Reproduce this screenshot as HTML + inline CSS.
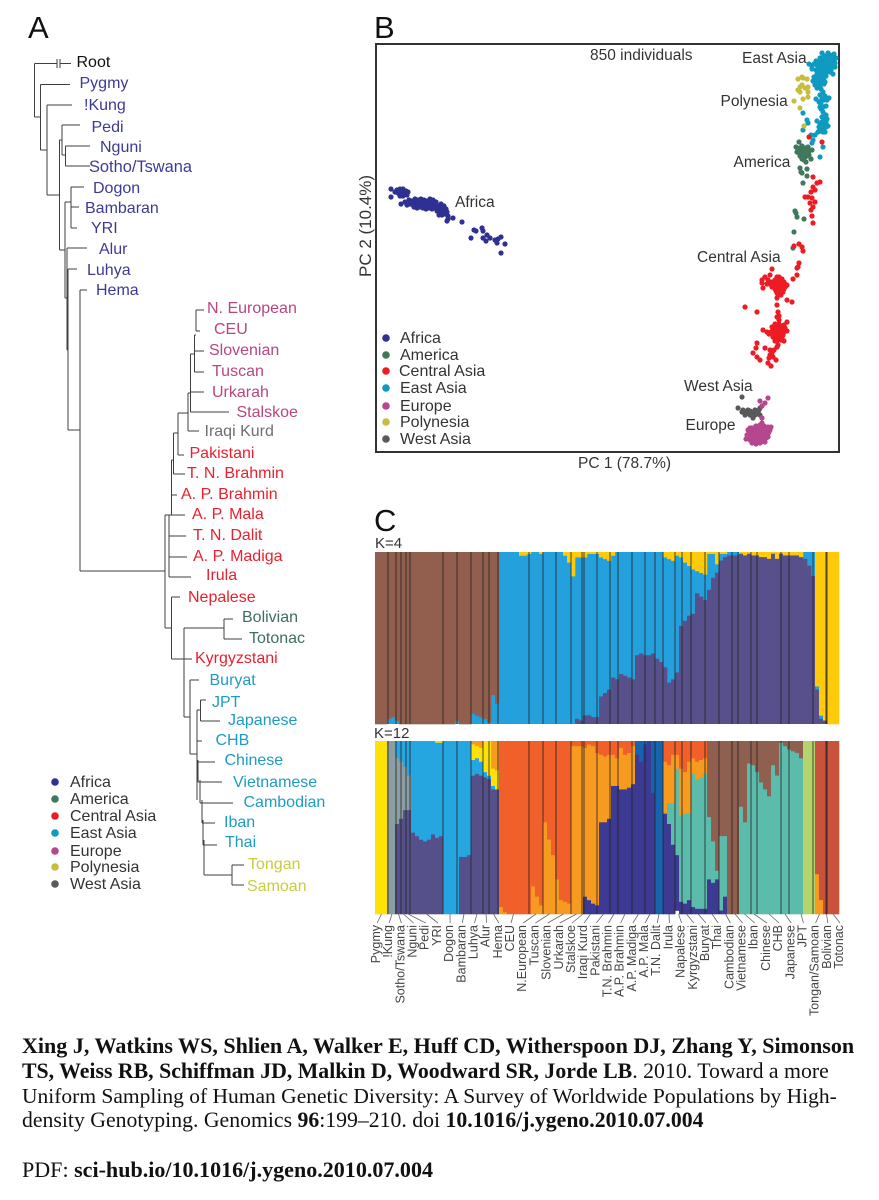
<!DOCTYPE html>
<html lang="en">
<head>
<meta charset="utf-8">
<title>Xing et al. 2010 figure</title>
<style>
html,body{margin:0;padding:0;background:#fff;}
svg{display:block;}
text{font-family:"Liberation Sans",Arial,sans-serif;}
.leaf{font-size:16px;}
.africa{fill:#3d3a96;}
.europe{fill:#b8467f;}
.westasia{fill:#6d6e71;}
.central{fill:#e8212e;}
.america{fill:#3b6e64;}
.east{fill:#1e9cc2;}
.poly{fill:#c9cc3f;}
.lg{font-size:16px;fill:#333;}
.cl{font-size:15.5px;fill:#333;}
.cap{font-family:"Liberation Serif",serif;font-size:21.8px;fill:#111;}
.cap tspan.b{font-weight:bold;}
.panel{font-size:31px;fill:#111;}
</style>
</head>
<body>
<svg id="fig" xmlns="http://www.w3.org/2000/svg" width="879" height="1200" viewBox="0 0 879 1200">
<rect x="0" y="0" width="879" height="1200" fill="#fff"/>
<text class="panel" x="28" y="38">A</text>
<text class="panel" x="374" y="38">B</text>
<text class="panel" x="374" y="531">C</text>

<g id="tree"></g>
<g>
<text class="leaf" fill="#111" x="76.5" y="67">Root</text>
<text class="leaf africa" x="79.5" y="88">Pygmy</text>
<text class="leaf africa" x="84" y="110">!Kung</text>
<text class="leaf africa" x="91.5" y="132">Pedi</text>
<text class="leaf africa" x="100" y="152">Nguni</text>
<text class="leaf africa" x="89" y="172" style="font-size:16.4px">Sotho/Tswana</text>
<text class="leaf africa" x="93" y="193">Dogon</text>
<text class="leaf africa" x="85" y="213">Bambaran</text>
<text class="leaf africa" x="91" y="233">YRI</text>
<text class="leaf africa" x="99" y="254">Alur</text>
<text class="leaf africa" x="87" y="275">Luhya</text>
<text class="leaf africa" x="96" y="295">Hema</text>
<text class="leaf europe" x="207" y="313">N. European</text>
<text class="leaf europe" x="214" y="334">CEU</text>
<text class="leaf europe" x="209" y="355">Slovenian</text>
<text class="leaf europe" x="212" y="376">Tuscan</text>
<text class="leaf europe" x="212" y="397">Urkarah</text>
<text class="leaf europe" x="236.5" y="417">Stalskoe</text>
<text class="leaf westasia" x="204.5" y="436">Iraqi Kurd</text>
<text class="leaf central" x="189.5" y="458">Pakistani</text>
<text class="leaf central" x="187" y="478">T. N. Brahmin</text>
<text class="leaf central" x="181" y="499">A. P. Brahmin</text>
<text class="leaf central" x="192" y="519">A. P. Mala</text>
<text class="leaf central" x="193" y="540">T. N. Dalit</text>
<text class="leaf central" x="193" y="561">A. P. Madiga</text>
<text class="leaf central" x="206" y="580">Irula</text>
<text class="leaf central" x="188" y="602">Nepalese</text>
<text class="leaf america" x="242" y="622">Bolivian</text>
<text class="leaf america" x="249" y="643">Totonac</text>
<text class="leaf central" x="195" y="663">Kyrgyzstani</text>
<text class="leaf east" x="209.5" y="685">Buryat</text>
<text class="leaf east" x="212" y="707">JPT</text>
<text class="leaf east" x="228" y="725">Japanese</text>
<text class="leaf east" x="215.5" y="745">CHB</text>
<text class="leaf east" x="224.5" y="765">Chinese</text>
<text class="leaf east" x="233" y="787">Vietnamese</text>
<text class="leaf east" x="243.5" y="807">Cambodian</text>
<text class="leaf east" x="224" y="827">Iban</text>
<text class="leaf east" x="225" y="847">Thai</text>
<text class="leaf poly" x="248" y="869">Tongan</text>
<text class="leaf poly" x="247" y="891">Samoan</text>
</g>

<g>
<circle cx="55" cy="782" r="3.8" fill="#2e3192"/><text class="lg" x="70" y="787">Africa</text>
<circle cx="55" cy="799" r="3.8" fill="#40785c"/><text class="lg" x="70" y="804">America</text>
<circle cx="55" cy="816" r="3.8" fill="#ed1c24"/><text class="lg" x="70" y="821">Central Asia</text>
<circle cx="55" cy="833" r="3.8" fill="#0f9ac0"/><text class="lg" x="70" y="838">East Asia</text>
<circle cx="55" cy="851" r="3.8" fill="#b5478f"/><text class="lg" x="70" y="856">Europe</text>
<circle cx="55" cy="867" r="3.8" fill="#c9bd3f"/><text class="lg" x="70" y="872">Polynesia</text>
<circle cx="55" cy="884" r="3.8" fill="#58595b"/><text class="lg" x="70" y="889">West Asia</text>
</g>

<rect x="376" y="44" width="463" height="408" fill="none" stroke="#333" stroke-width="2"/>
<g id="pca"></g>
<text class="cl" x="590" y="60">850 individuals</text>
<text class="cl" x="578" y="468">PC 1 (78.7%)</text>
<text class="cl" style="font-size:17px" transform="translate(371,277) rotate(-90)">PC 2 (10.4%)</text>
<text class="cl" x="742" y="63">East Asia</text>
<text class="cl" x="720.5" y="106">Polynesia</text>
<text class="cl" x="733.5" y="167">America</text>
<text class="cl" x="697" y="262">Central Asia</text>
<text class="cl" x="684" y="391">West Asia</text>
<text class="cl" x="685.5" y="430">Europe</text>
<text class="cl" x="455" y="207">Africa</text>

<g>
<circle cx="386" cy="338" r="3.8" fill="#2e3192"/><text class="lg" x="400" y="343">Africa</text>
<circle cx="386" cy="355" r="3.8" fill="#40785c"/><text class="lg" x="400" y="360">America</text>
<circle cx="386" cy="371" r="3.8" fill="#ed1c24"/><text class="lg" x="399" y="376">Central Asia</text>
<circle cx="386" cy="388" r="3.8" fill="#0f9ac0"/><text class="lg" x="400" y="393">East Asia</text>
<circle cx="386" cy="406" r="3.8" fill="#b5478f"/><text class="lg" x="400" y="411">Europe</text>
<circle cx="386" cy="422" r="3.8" fill="#c9bd3f"/><text class="lg" x="400" y="427">Polynesia</text>
<circle cx="386" cy="439" r="3.8" fill="#58595b"/><text class="lg" x="400" y="444">West Asia</text>
</g>

<text class="cl" style="font-size:15px" x="375" y="548">K=4</text>
<text class="cl" style="font-size:15px" x="374" y="738">K=12</text>
<g id="k4"></g>
<g id="k12"></g>
<g id="popTicks"></g>

<text class="cap" style="font-size:22.05px" x="22" y="1053"><tspan class="b">Xing J, Watkins WS, Shlien A, Walker E, Huff CD, Witherspoon DJ, Zhang Y, Simonson</tspan></text>
<text class="cap" style="font-size:21.8px" x="22" y="1078"><tspan class="b">TS, Weiss RB, Schiffman JD, Malkin D, Woodward SR, Jorde LB</tspan>. 2010. Toward a more</text>
<text class="cap" style="font-size:21.5px" x="22" y="1103">Uniform Sampling of Human Genetic Diversity: A Survey of Worldwide Populations by High-</text>
<text class="cap" style="font-size:21.75px" x="22" y="1127">density Genotyping. Genomics <tspan class="b">96</tspan>:199–210. doi <tspan class="b">10.1016/j.ygeno.2010.07.004</tspan></text>
<text class="cap" style="font-size:22.05px" x="22" y="1177">PDF: <tspan class="b">sci-hub.io/10.1016/j.ygeno.2010.07.004</tspan></text>
</svg>

<script>
// ---------- Panel A: tree (depth, row) ----------
const treeJoins = [[34.5,63.5,117],[40.5,84.5,150],[47,105,195],[59.5,140,250],[62,125,155],[65.5,146,166],[65,202,298],[71,187,228],[67,248,350],[68,269,430],[80,290,571],[165,515,628],[169,515,577],[171.5,460,515],[173.5,433,474],[178,413,455],[188,393,431],[190.5,354,412],[194.5,335,372],[196,310,331],[171.5,597,659],[184,628,717],[224,619,639],[190,680,754],[197,710,800],[200.5,700,721],[198,760,782],[200,780,803],[202,800,823],[203,820,845],[204,840,875],[232,865,885],[57,59,68],[60,59,68]];
const treeBranches = [[34.5,57,63.5],[60,71,63.5],[34.5,40.5,117],[40.5,70,84.5],[40.5,47,150],[47,72,105],[47,59.5,195],[59.5,62,140],[62,80,125],[62,65.5,155],[65.5,90,146],[65.5,90,166],[59.5,65,250],[65,71,202],[71,84,187],[71,79,207],[71,77,228],[65,67,298],[67,87,248],[67,68,350],[68,77,269],[68,80,430],[80,87,290],[80,165,571],[165,169,515],[169,185,515],[169,186,536],[169,187,557],[169,191,577],[171.5,173.5,460],[171.5,177,495],[173.5,185,474],[173.5,178,433],[178,184,455],[178,188,413],[188,199,431],[188,190.5,393],[190.5,204,392],[190.5,229,412],[190.5,194.5,354],[194.5,204,351],[194.5,204,372],[194.5,196,335],[196,204,310],[196,200,331],[165,171.5,628],[171.5,180,597],[171.5,184,659],[184,192,659],[184,224,628],[224,233,619],[224,242,639],[184,190,717],[190,199,680],[190,197,754],[197,200.5,710],[200.5,206,700],[200.5,220,721],[197,202,741],[197,215,762],[198,222,782],[200,233,803],[202,215,823],[203,217,845],[204,232,875],[232,244,865],[232,244,885]];

// ---------- Panel B: PCA scores (PC1, PC2 in plot units) ----------
const africaScores = [[15,263],[21,262],[24,263],[27,263],[30,261],[32,260],[19,260],[22,259],[26,259],[29,258],[31,257],[24,256],[27,256],[15,255],[25,248],[22,261],[25,261],[28,260],[29,250],[31,247],[33,252],[34,248],[35,250],[36,251],[37,247],[38,249],[39,253],[40,249],[41,250],[42,252],[43,247],[44,250],[44,248],[45,253],[46,249],[47,250],[47,247],[48,252],[49,246],[50,249],[50,246],[51,251],[52,247],[53,250],[54,253],[54,246],[55,249],[56,247],[57,252],[58,246],[59,247],[60,250],[47,244],[50,243],[53,244],[56,243],[38,245],[41,244],[44,245],[59,244],[61,241],[61,246],[62,246],[63,243],[64,239],[64,241],[64,244],[65,248],[66,244],[67,241],[67,244],[67,239],[68,246],[69,238],[70,243],[71,240],[63,237],[66,237],[72,236],[72,233],[77,234],[71,231],[86,230],[98,222],[100,221],[106,224],[107,221],[95,214],[107,214],[111,217],[114,214],[110,211],[119,212],[121,209],[125,215],[129,208],[125,199],[122,213]];
const eastAsiaScores = [[446,399],[444,394],[450,396],[454,397],[458,398],[456,393],[452,392],[447,390],[443,388],[449,387],[453,388],[457,389],[460,394],[459,385],[455,384],[451,383],[446,383],[442,384],[438,388],[436,386],[440,391],[433,388],[448,379],[454,380],[457,378],[450,376],[448,396],[452,399],[456,395],[445,392],[449,393],[453,394],[458,391],[444,390],[448,389],[451,390],[455,390],[459,389],[441,387],[445,386],[451,386],[455,387],[457,385],[449,384],[453,385],[444,381],[447,381],[451,380],[455,382],[440,382],[436,383],[443,375],[447,376],[440,375],[442,369],[445,370],[439,371],[448,368],[438,375],[441,378],[444,377],[437,371],[441,372],[445,372],[448,374],[439,367],[443,366],[446,368],[441,364],[445,363],[449,370],[447,360],[449,356],[451,352],[446,353],[443,350],[440,353],[445,348],[450,346],[453,354],[447,345],[444,345],[444,357],[448,352],[445,343],[447,340],[450,337],[446,335],[451,333],[441,331],[444,328],[448,327],[443,325],[447,323],[450,325],[452,326],[445,321],[449,320],[442,320],[450,330],[448,334],[446,330],[445,325],[448,331],[444,322],[447,320],[427,339],[431,332],[432,329],[427,322],[435,317],[439,317],[437,312],[436,309],[447,305],[444,295],[427,302]];
const polynesiaScores = [[426,375],[422,373],[431,373],[427,374],[424,365],[422,362],[426,367],[429,364],[432,365],[432,360],[424,360],[418,351],[427,353],[432,355],[424,344],[428,326]];
const americaScores = [[423,310],[420,305],[426,306],[430,304],[421,300],[425,301],[429,300],[433,301],[436,302],[427,296],[431,296],[424,296],[428,292],[430,290],[435,293],[424,304],[428,304],[423,299],[427,300],[431,299],[426,293],[429,295],[433,297],[422,302],[432,305],[424,284],[425,280],[426,279],[431,276],[431,283],[427,269],[419,241],[420,239],[421,235],[428,233],[418,220],[417,204]];
const centralAsiaScores = [[433,315],[446,310],[437,275],[444,270],[441,269],[437,265],[435,260],[439,262],[432,255],[429,255],[436,254],[439,250],[434,249],[437,245],[436,236],[437,229],[435,242],[418,206],[423,208],[426,205],[427,201],[421,184],[422,185],[423,189],[421,177],[417,173],[396,183],[394,177],[389,175],[386,172],[386,169],[392,172],[401,175],[403,175],[396,170],[399,172],[402,173],[405,171],[408,170],[398,167],[401,168],[404,168],[407,167],[410,166],[399,163],[402,164],[405,163],[408,163],[401,159],[404,159],[407,160],[400,170],[403,170],[406,173],[398,165],[400,165],[403,166],[406,165],[409,165],[397,168],[400,161],[403,161],[406,161],[409,168],[405,157],[402,157],[394,168],[391,168],[387,164],[396,165],[411,167],[411,152],[416,150],[401,154],[401,147],[369,145],[381,140],[402,140],[401,135],[403,132],[403,136],[399,128],[403,128],[400,126],[396,125],[399,123],[402,124],[405,126],[408,127],[411,130],[387,122],[391,120],[395,120],[399,119],[402,120],[405,120],[408,120],[411,121],[398,117],[401,118],[404,118],[407,117],[409,124],[406,123],[400,122],[397,122],[403,122],[393,118],[405,112],[402,112],[397,115],[400,115],[403,116],[406,114],[399,111],[408,111],[381,109],[380,104],[377,99],[381,95],[384,92],[389,104],[394,102],[394,97],[396,99],[398,102],[401,105],[402,107],[393,94],[392,89],[400,92],[395,86],[397,95]];
const westAsiaScores = [[366,55],[362,44],[366,40],[369,40],[372,42],[376,40],[379,42],[382,40],[384,44],[379,37],[374,37],[369,37],[377,34],[384,37],[367,42],[371,39],[374,41],[377,37],[381,38],[383,42]];
const europeScores = [[392,54],[384,51],[389,49],[386,46],[386,34],[386,29],[376,24],[380,26],[384,27],[388,26],[392,25],[394,22],[373,20],[377,20],[381,21],[385,22],[389,21],[392,18],[372,16],[376,16],[380,16],[384,17],[388,17],[390,14],[370,13],[374,12],[378,12],[382,13],[386,12],[389,10],[376,9],[380,8],[384,9],[371,17],[395,25],[374,24],[378,24],[382,24],[386,24],[390,23],[375,18],[379,18],[383,19],[387,19],[391,20],[373,14],[377,14],[381,14],[385,14],[389,14],[392,15],[377,11],[381,10],[385,10],[372,22],[393,20]];

// ---------- Panel C: ancestry proportions (percent), one entry per column ----------
const populationLabels = ["Pygmy","!Kung","Sotho/Tswana","Nguni","Pedi","YRI","Dogon","Bambaran","Luhya","Alur","Hema","CEU","N.European","Tuscan","Slovenian","Urkarah","Stalskoe","Iraqi Kurd","Pakistani","T.N. Brahmin","A.P. Brahmin","A.P. Madiga","A.P. Mala","T.N. Dalit","Irula","Napalese","Kyrgyzstani","Buryat","Thai","Cambodian","Vietnamese","Iban","Chinese","CHB","Japanese","JPT","Tongan/Samoan","Bolivian","Totonac"];
const populationBreaks = [3.25,5.25,6.5,7.75,8.75,17,20.5,24,27,28.5,30.75,38.5,42,45.25,49,51.75,52.25,55.5,58.75,60.75,64.25,67.5,70,72,75,76.75,79,82.5,86,89.25,90.75,94,95.5,101.5,103.5,109.5,112.75,113];

const k4Yellow = [0,0,0,0,0,0,0,0,0,0,0,0,0,0,0,0,0,0,0,0,0,0,0,0,0,0,0,0,0,0,0,0,0,0,0,0,2,2,1,0,0,1,0,0,0,0,0,2,6,14,3,3,3,1,1,1,3,4,5,2,0,0,0,0,0,0,0,0,0,0,0,0,3,4,5,2,3,6,8,10,11,12,13,1,1,7,1,1,0,0,0,1,2,1,2,2,3,3,4,1,4,1,2,2,2,2,3,0,0,0,78,95,98,100,100,100];
const k4Brown = [100,100,100,97,96,98,100,100,100,100,100,100,100,100,100,100,100,100,100,100,98,100,100,100,94,95,96,97,99,83,88];
const k4Purple = [0,0,0,0,0,0,0,0,0,0,0,0,0,0,0,0,0,0,0,0,0,0,0,0,0,0,0,0,0,0,0,0,0,0,0,0,0,0,0,0,0,0,0,0,0,0,0,0,0,0,3,2,5,5,4,4,16,18,20,27,26,29,28,27,26,40,41,40,40,41,38,36,33,24,26,30,57,60,63,64,76,74,72,78,85,88,95,97,98,98,98,99,98,99,98,98,97,97,96,99,96,99,98,98,98,98,97,96,92,86,20,3,2,0,0,0];

const k12Yellow = [100,100,100,0,0,0,0,0,0,0,0,0,0,0,0,1,1,0,0,0,0,0,0,0,9,7,8,18,20,10,11];
const k12Blue = [0,0,0,0,0,10,12,15,20,53,55,57,58,57,54,55,54,100,100,100,100,67,67,66,9,9,8,3,2,2,0];
const k12Grey = [0,0,0,100,100,38,33,25,20];
const k12Purple = [0,0,0,0,0,52,55,60,60,47,45,43,42,43,46,44,45,0,0,0,0,33,33,34,80,81,80,79,78,72,72];
const k12Orange = [0,0,0,0,0,0,0,0,0,0,0,0,0,0,0,0,0,0,0,0,0,0,0,0,2,3,4,0,0,16,17,4,1,0,0,0,0,0,0,16,10,5,53,43,34,20,8,7,6,97,97,97,86,90,91,88,39,38,37,18,16,24,20,20,22,0,0,0,0,0,0,0,30,22,28,8,27,24,30,9,10,10,9,0,0,0,0,0,0,0,0,0,0,0,0,0,0,0,0,0,0,0,0,0,0,0,0,0,0,0,23,8];
const k12RedOrange = [0,0,0,0,0,0,0,0,0,0,0,0,0,0,0,0,0,0,0,0,0,0,0,0,0,0,0,0,0,0,0,96,99,100,100,100,100,100,100,84,90,95,47,57,66,80,92,93,94,3,3,3,4,2,3,7,8,9,8,8,10,4,8,7,3,0,0,0,0,0,0,0,12,14,8,8,16,18,12,10,12,11,10];
const k12Indigo = [0,0,0,0,0,0,0,0,0,0,0,0,0,0,0,0,0,0,0,0,0,0,0,0,0,0,0,0,0,0,0,0,0,0,0,0,0,0,0,0,0,0,0,0,0,0,0,0,0,0,0,0,10,8,6,5,53,53,55,74,74,72,72,73,75,92,88,98,100,70,0,0,58,52,40,32,7,6,8,4,3,3,3,20,18,20,2,10];
const k12Royal = [0,0,0,0,0,0,0,0,0,0,0,0,0,0,0,0,0,0,0,0,0,0,0,0,0,0,0,0,0,0,0,0,0,0,0,0,0,0,0,0,0,0,0,0,0,0,0,0,0,0,0,0,0,0,0,0,0,0,0,0,0,0,0,0,0,8,12,2,0,30,100,100];
const k12Brown = [0,0,0,0,0,0,0,0,0,0,0,0,0,0,0,0,0,0,0,0,0,0,0,0,0,0,0,0,0,0,0,0,0,0,0,0,0,0,0,0,0,0,0,0,0,0,0,0,0,0,0,0,0,0,0,0,0,0,0,0,0,0,0,0,0,0,0,0,0,0,0,0,0,0,0,0,0,0,0,0,0,0,0,44,58,75,55,55,100,100,100,38,47,13,14,18,24,28,32,14,20,1,3,5,6,7,10];
const k12Teal = [0,0,0,0,0,0,0,0,0,0,0,0,0,0,0,0,0,0,0,0,0,0,0,0,0,0,0,0,0,0,0,0,0,0,0,0,0,0,0,0,0,0,0,0,0,0,0,0,0,0,0,0,0,0,0,0,0,0,0,0,0,0,0,0,0,0,0,0,0,0,0,0,0,12,24,50,50,52,50,77,75,76,78,36,24,5,43,35,0,0,0,62,53,87,86,82,76,72,68,86,80,99,97,95,94,93,90];
const k12Green = [0,0,0,0,0,0,0,0,0,0,0,0,0,0,0,0,0,0,0,0,0,0,0,0,0,0,0,0,0,0,0,0,0,0,0,0,0,0,0,0,0,0,0,0,0,0,0,0,0,0,0,0,0,0,0,0,0,0,0,0,0,0,0,0,0,0,0,0,0,0,0,0,0,0,0,0,0,0,0,0,0,0,0,0,0,0,0,0,0,0,0,0,0,0,0,0,0,0,0,0,0,0,0,0,0,0,0,100,100,100];
const k12Red = [0,0,0,0,0,0,0,0,0,0,0,0,0,0,0,0,0,0,0,0,0,0,0,0,0,0,0,0,0,0,0,0,0,0,0,0,0,0,0,0,0,0,0,0,0,0,0,0,0,0,0,0,0,0,0,0,0,0,0,0,0,0,0,0,0,0,0,0,0,0,0,0,0,0,0,0,0,0,0,0,0,0,0,0,0,0,0,0,0,0,0,0,0,0,0,0,0,0,0,0,0,0,0,0,0,0,0,0,0,0,77,92,100,100,100,100];

const SVGNS = "http://www.w3.org/2000/svg";
function linear(d0, d1, r0, r1){ return v => r0 + (v - d0) * (r1 - r0) / (d1 - d0); }

// tree axes
const treeX = linear(0, 100, 0, 100);
const treeY = linear(0, 100, 0, 100);
const treeG = document.getElementById('tree');
treeJoins.forEach(j => {
  const el = document.createElementNS(SVGNS, 'line');
  
  
  el.setAttribute('x1', treeX(j[0])); el.setAttribute('x2', treeX(j[0]));
  el.setAttribute('y1', treeY(j[1])); el.setAttribute('y2', treeY(j[2]));
  el.setAttribute('stroke', '#3f3f3f'); el.setAttribute('stroke-width', '1');
  treeG.appendChild(el);
});
treeBranches.forEach(b => {
  const el = document.createElementNS(SVGNS, 'line');
  
  
  el.setAttribute('x1', treeX(b[0])); el.setAttribute('x2', treeX(b[1]));
  el.setAttribute('y1', treeY(b[2])); el.setAttribute('y2', treeY(b[2]));
  el.setAttribute('stroke', '#3f3f3f'); el.setAttribute('stroke-width', '1');
  treeG.appendChild(el);
});

// PCA axes
const pc1X = linear(0, 462, 376, 838);
const pc2Y = linear(0, 408, 452, 44);
const pcaG = document.getElementById('pca');
[[africaScores,'#2e3192'],[eastAsiaScores,'#0f9ac0'],[polynesiaScores,'#c9bd3f'],[americaScores,'#40785c'],[centralAsiaScores,'#ed1c24'],[westAsiaScores,'#58595b'],[europeScores,'#b5478f']].forEach(s => {
  s[0].forEach(p => {
    const el = document.createElementNS(SVGNS, 'circle');
    
    
    el.setAttribute('cx', pc1X(p[0]));
    el.setAttribute('cy', pc2Y(p[1]));
    el.setAttribute('r', '2.6');
    el.setAttribute('fill', s[1]);
    pcaG.appendChild(el);
  });
});

// admixture axes
const columnCount = 116;
const colX = linear(0, columnCount, 375, 839);
function stacked(groupId, top, bottom, series, fillColor, prefix, bottomSeries){
  const g = document.getElementById(groupId);
  const y = linear(0, 100, top, bottom);
  const bg = document.createElementNS(SVGNS, 'rect');
  
  
  bg.setAttribute('x', colX(0)); bg.setAttribute('y', top);
  bg.setAttribute('width', colX(columnCount) - colX(0)); bg.setAttribute('height', bottom - top);
  bg.setAttribute('fill', fillColor);
  g.appendChild(bg);
  for (let i = 0; i < columnCount; i++) {
    let cum = 0;
    series.forEach(s => {
      const v = s.values[i] || 0;
      if (v <= 0) return;
      const start = Math.min(cum, 100), end = Math.min(cum + v, 100);
      cum += v;
      if (end <= start) return;
      const el = document.createElementNS(SVGNS, 'rect');
      
      
      el.setAttribute('x', colX(i));
      el.setAttribute('y', y(start));
      el.setAttribute('width', colX(i + 1) - colX(i) + 0.3);
      el.setAttribute('height', y(end) - y(start) + 0.3);
      el.setAttribute('fill', s.color);
      g.appendChild(el);
    });
    if (bottomSeries) {
      const v = bottomSeries.values[i] || 0;
      if (v > 0) {
        const el = document.createElementNS(SVGNS, 'rect');
        
        
        el.setAttribute('x', colX(i));
        el.setAttribute('y', y(100 - v));
        el.setAttribute('width', colX(i + 1) - colX(i) + 0.3);
        el.setAttribute('height', y(100) - y(100 - v));
        el.setAttribute('fill', bottomSeries.color);
        g.appendChild(el);
      }
    }
  }
  populationBreaks.forEach(b => {
    const el = document.createElementNS(SVGNS, 'line');
    
    
    el.setAttribute('x1', colX(b)); el.setAttribute('x2', colX(b));
    el.setAttribute('y1', top); el.setAttribute('y2', bottom);
    el.setAttribute('stroke', '#222'); el.setAttribute('stroke-width', '1'); el.setAttribute('stroke-opacity', '0.8');
    g.appendChild(el);
  });
}
// K=4: yellow and brown stack from the top, purple rises from the bottom, blue shows in between
stacked('k4', 552, 724, [
  {name:'yellow', color:'#ffca0a', values:k4Yellow},
  {name:'brown', color:'#925f4e', values:k4Brown}
], '#24a0dc', 'k4', {name:'purple', color:'#57508a', values:k4Purple});
stacked('k12', 741, 914, [
  {name:'red', color:'#c9523c', values:k12Red},
  {name:'red-orange', color:'#f1602a', values:k12RedOrange},
  {name:'orange', color:'#f79a20', values:k12Orange},
  {name:'brown', color:'#8f5f4f', values:k12Brown},
  {name:'yellow', color:'#ffe10a', values:k12Yellow},
  {name:'blue', color:'#26a6e0', values:k12Blue},
  {name:'grey', color:'#8b9fa3', values:k12Grey},
  {name:'teal', color:'#5cbcab', values:k12Teal},
  {name:'purple', color:'#56508a', values:k12Purple},
  {name:'royal', color:'#1664ae', values:k12Royal},
  {name:'indigo', color:'#3c3a92', values:k12Indigo},
  {name:'green', color:'#b6d46c', values:k12Green}
], '#ffffff', 'k12');

// population labels and leader ticks
const popG = document.getElementById('popTicks');
const labelX = linear(0, populationLabels.length - 1, 375, 838);
const edges = [0].concat(populationBreaks, [columnCount]);
populationLabels.forEach((name, i) => {
  const lx = labelX(i);
  const bx = colX((edges[i] + edges[i + 1]) / 2);
  const tick = document.createElementNS(SVGNS, 'line');
  
  
  tick.setAttribute('x1', bx); tick.setAttribute('y1', 914);
  tick.setAttribute('x2', lx + 2); tick.setAttribute('y2', 923);
  tick.setAttribute('stroke', '#666'); tick.setAttribute('stroke-width', '0.8');
  popG.appendChild(tick);
  const el = document.createElementNS(SVGNS, 'text');
  
  
  el.setAttribute('transform', 'translate(' + (lx + 5) + ',925) rotate(-90)');
  el.setAttribute('text-anchor', 'end');
  el.setAttribute('font-size', '12.5');
  el.setAttribute('fill', '#444');
  el.textContent = name;
  popG.appendChild(el);
});
</script>
</body>
</html>
